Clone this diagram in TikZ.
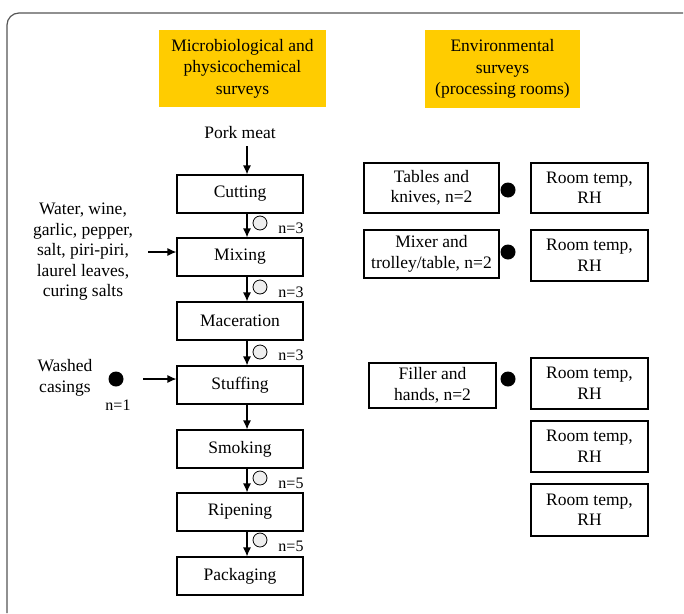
\documentclass[tikz,border=0pt]{standalone}
\usepackage{fontspec}
\setmainfont{Liberation Serif}
\usetikzlibrary{arrows.meta}
\definecolor{hdr}{HTML}{FFCC00}
\definecolor{frm}{HTML}{555555}
\definecolor{opn}{HTML}{EEEEEE}
\tikzset{
  txt/.style={font=\fontsize{17.5}{20.5}\selectfont, align=center, inner sep=0pt},
  hdrbox/.style={txt, fill=hdr, font=\fontsize{17.5}{21.5}\selectfont},
  stepbox/.style={txt, draw=black, line width=1.1pt, minimum width=126pt, minimum height=38pt},
  envbox/.style={txt, draw=black, line width=1.1pt},
  nlab/.style={font=\fontsize{16}{18}\selectfont, inner sep=0pt},
  opendot/.style={circle, draw=black, line width=0.8pt, fill=opn, minimum size=14pt, inner sep=0pt},
  fulldot/.style={circle, fill=black, minimum size=15pt, inner sep=0pt},
  flow/.style={line width=1.2pt, -{Latex[length=9pt,width=8pt]}}
}
\begin{document}
\begin{tikzpicture}[x=1pt,y=-1pt]
\useasboundingbox (0,0) rectangle (684,613);
% frame
\draw[frm, line width=1.2pt, rounded corners=12pt] (7,613) -- (7,13) -- (683,13);
% headers
\node[hdrbox, minimum width=167pt, minimum height=77pt] (h1) at (242.5,68.5) {Microbiological and\\physicochemical\\surveys};
\node[hdrbox, minimum width=155pt, minimum height=78pt] (h2) at (502.5,69) {Environmental\\surveys\\(processing rooms)};
% flow steps
\node[txt] (pork) at (240,133) {Pork meat};
\node[stepbox] (cut) at (240,194) {Cutting};
\node[stepbox] (mix) at (240,257) {Mixing};
\node[stepbox] (mac) at (240,321) {Maceration};
\node[stepbox] (stu) at (240,385) {Stuffing};
\node[stepbox] (smo) at (240,449) {Smoking};
\node[stepbox] (rip) at (240,512) {Ripening};
\node[stepbox] (pac) at (240,576) {Packaging};
\coordinate (porkend) at (247,146);
\draw[flow] (porkend) -- ([xshift=7pt]cut.north);
\draw[flow] ([xshift=7pt]cut.south) -- ([xshift=7pt]mix.north);
\draw[flow] ([xshift=7pt]mix.south) -- ([xshift=7pt]mac.north);
\draw[flow] ([xshift=7pt]mac.south) -- ([xshift=7pt]stu.north);
\draw[flow] ([xshift=7pt]stu.south) -- ([xshift=7pt]smo.north);
\draw[flow] ([xshift=7pt]smo.south) -- ([xshift=7pt]rip.north);
\draw[flow] ([xshift=7pt]rip.south) -- ([xshift=7pt]pac.north);
% sampling marks
\node[opendot] (o1) at (260,223) {};
\node[nlab] (n1) at (291,228) {n=3};
\node[opendot] (o2) at (260,287) {};
\node[nlab] (n2) at (291,292) {n=3};
\node[opendot] (o3) at (260,352) {};
\node[nlab] (n3) at (291,355) {n=3};
\node[opendot] (o4) at (260,478) {};
\node[nlab] (n4) at (291,483) {n=5};
\node[opendot] (o5) at (260,540) {};
\node[nlab] (n5) at (291,546) {n=5};
% inputs
\node[txt] (water) at (83,252) {Water, wine,\\garlic, pepper,\\salt, piri-piri,\\laurel leaves,\\curing salts};
\coordinate (wend) at (148,252);
\draw[flow] (wend) -- ([yshift=5pt]mix.west);
\node[txt] (cas) at (65,378) {Washed\\casings};
\node[fulldot] (d0) at (116,379) {};
\node[nlab] (n0) at (118,405) {n=1};
\coordinate (cend) at (143,379);
\draw[flow] (cend) -- ([yshift=6pt]stu.west);
% environmental
\node[envbox, minimum width=135pt, minimum height=50pt] (t1) at (431.5,188) {Tables and\\knives, n=2};
\node[envbox, minimum width=135pt, minimum height=48pt] (t2) at (431.5,254) {Mixer and\\trolley/table, n=2};
\node[envbox, minimum width=127pt, minimum height=45pt] (t3) at (432.5,385.5) {Filler and\\hands, n=2};
\node[fulldot] (d1) at (508,190) {};
\node[fulldot] (d2) at (508,252) {};
\node[fulldot] (d3) at (508,379) {};
\node[envbox, minimum width=117pt, minimum height=50pt] (r1) at (589.5,188) {Room temp,\\RH};
\node[envbox, minimum width=117pt, minimum height=51pt] (r2) at (589.5,255.5) {Room temp,\\RH};
\node[envbox, minimum width=117pt, minimum height=51pt] (r3) at (589.5,383.5) {Room temp,\\RH};
\node[envbox, minimum width=117pt, minimum height=51pt] (r4) at (589.5,446.5) {Room temp,\\RH};
\node[envbox, minimum width=117pt, minimum height=52pt] (r5) at (589.5,510) {Room temp,\\RH};
\end{tikzpicture}
\end{document}
